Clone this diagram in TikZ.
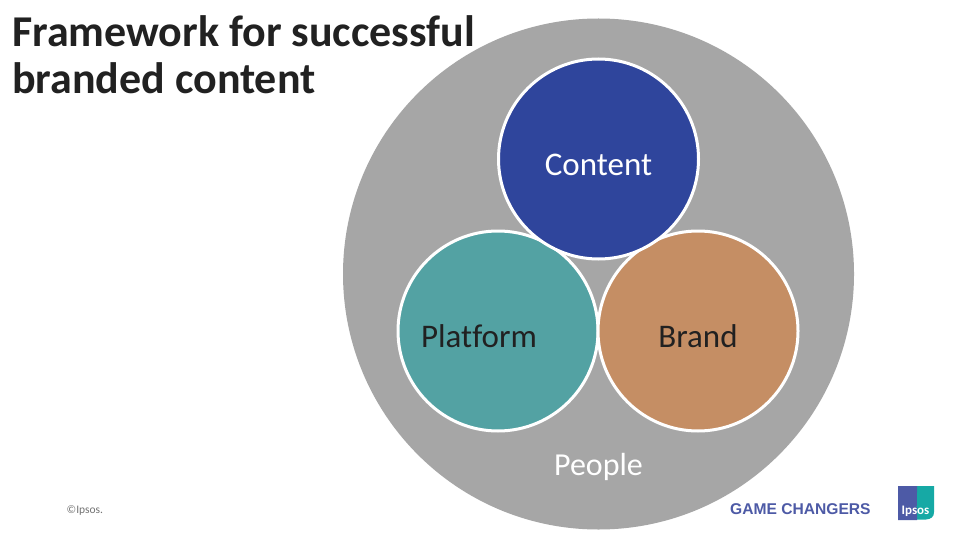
\documentclass[tikz,border=0pt]{standalone}
\usepackage{fontspec}
\setmainfont{Carlito}
\newfontfamily\arialf{Liberation Sans}
\definecolor{biggrey}{HTML}{A6A6A6}
\definecolor{cblue}{HTML}{2F459C}
\definecolor{cteal}{HTML}{53A2A3}
\definecolor{cbrown}{HTML}{C58E64}
\definecolor{ink}{HTML}{212121}
\definecolor{gcblue}{HTML}{4D5AA6}
\definecolor{logoteal}{HTML}{16A9A5}
\begin{document}
\begin{tikzpicture}[x=1pt,y=-1pt,
  disc/.style={circle,draw=white,line width=3pt,inner sep=0pt,minimum size=200pt},
  lbl/.style={font=\fontsize{33}{40}\selectfont},
  title/.style={anchor=north west,align=left,inner sep=0pt,text=ink,font=\fontsize{44}{47.5}\selectfont\bfseries}]
\useasboundingbox (0,0) rectangle (960,540);
\fill[white] (0,0) rectangle (960,540);
\node[circle,fill=biggrey,inner sep=0pt,minimum size=511pt] (people) at (598.5,274) {};
\node[disc,fill=cteal] (platform) at (498,331) {};
\node[disc,fill=cbrown] (brand) at (698,331) {};
\node[disc,fill=cblue] (content) at (598.5,159) {};
\node[lbl,text=white] (contentlbl) at (598.5,164.5) {Content};
\node[lbl,text=ink] (platformlbl) at (479,336.5) {Plat\kern0pt form};
\node[lbl,text=ink] (brandlbl) at (698,336.5) {Brand};
\node[text=white,font=\fontsize{32}{38}\selectfont] (peoplelbl) at (598.5,467) {People};
\node[title] (titlelbl) at (12,15) {Framework for successful\\branded content};
\node[anchor=west,inner sep=0pt,text=black!55,font=\fontsize{11.5}{13}\selectfont] (copy) at (66.5,510.5) {©Ipsos.};
\node[anchor=west,inner sep=0pt,text=gcblue,font=\arialf\fontsize{15.6}{18}\selectfont\bfseries] (gc) at (730,509) {GAME CHANGERS};
\fill[logoteal] (898,486) -- (934,486) -- (934,512) .. controls (934,517) and (931,519) .. (926,519.5) -- (898,519.5) -- cycle;
\fill[gcblue] (898,486) -- (917,486) -- (917,495) -- (913,497) -- (913,505) -- (917,507) -- (917,520) -- (898,520) -- cycle;
\fill[gcblue] (911,492) rectangle (917,506);
\fill[logoteal] (917,492) .. controls (921,494) and (921,503) .. (917,506) -- cycle;
\node[inner sep=0pt,text=white,font=\fontsize{13}{15}\selectfont\bfseries] (ipsos) at (915.5,511.5) {Ipsos};
\end{tikzpicture}
\end{document}
